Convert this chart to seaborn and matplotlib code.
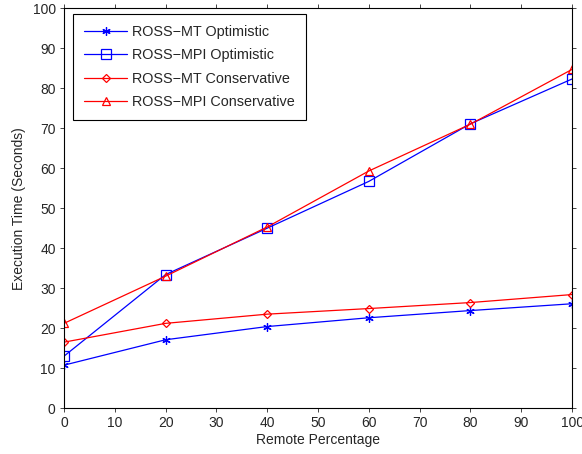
import matplotlib
matplotlib.use("Agg")
import matplotlib.pyplot as plt
import seaborn as sns
import pandas as pd

remote_pct = [0, 20, 40, 60, 80, 100]
mt_opt = [10.75, 17.1, 20.4, 22.6, 24.4, 26.1]
mpi_opt = [13.0, 33.4, 45.0, 56.7, 71.1, 82.3]
mt_cons = [16.5, 21.2, 23.5, 24.9, 26.4, 28.4]
mpi_cons = [21.2, 33.0, 45.3, 59.3, 71.0, 84.7]

series = [
    ("ROSS\u2212MT Optimistic", mt_opt, "#0000ff", (6, 2, 0), 6),
    ("ROSS\u2212MPI Optimistic", mpi_opt, "#0000ff", "s", 7),
    ("ROSS\u2212MT Conservative", mt_cons, "#ff0000", "D", 4.5),
    ("ROSS\u2212MPI Conservative", mpi_cons, "#ff0000", "^", 6),
]

sns.set_style("ticks")
plt.rcParams['font.family'] = ['Liberation Sans', 'DejaVu Sans']

fig = plt.figure(figsize=(5.82, 4.54), dpi=100)
ax = fig.add_axes([0.110, 0.101, 0.873, 0.881])

for name, vals, color, marker, ms in series:
    df = pd.DataFrame({"x": remote_pct, "y": vals})
    sns.lineplot(data=df, x="x", y="y", ax=ax, color=color, marker=marker,
                 markersize=ms, markerfacecolor="none", markeredgecolor=color,
                 markeredgewidth=0.9, linewidth=0.9, label=name)

ax.set_xlim(0, 100)
ax.set_ylim(0, 100)
ax.set_xticks(range(0, 101, 10))
ax.set_yticks(range(0, 101, 10))
ax.set_xlabel("Remote Percentage", fontsize=10, labelpad=2)
ax.set_ylabel("Execution Time (Seconds)", fontsize=10, labelpad=5)
ax.tick_params(direction="out", top=True, right=True, labelsize=10, length=3,
               width=0.6, pad=3)
for s in ax.spines.values():
    s.set_visible(True)
    s.set_linewidth(0.8)
    s.set_color("black")

leg = ax.legend(loc="upper left", fontsize=10.4, frameon=True, fancybox=False,
                edgecolor="black", framealpha=1, borderpad=0.75, labelspacing=0.65,
                handlelength=3.0, handletextpad=0.35, borderaxespad=0,
                bbox_to_anchor=(0.0177, 0.985))
leg.get_frame().set_linewidth(0.8)

fig.savefig("out.png", dpi=100)
